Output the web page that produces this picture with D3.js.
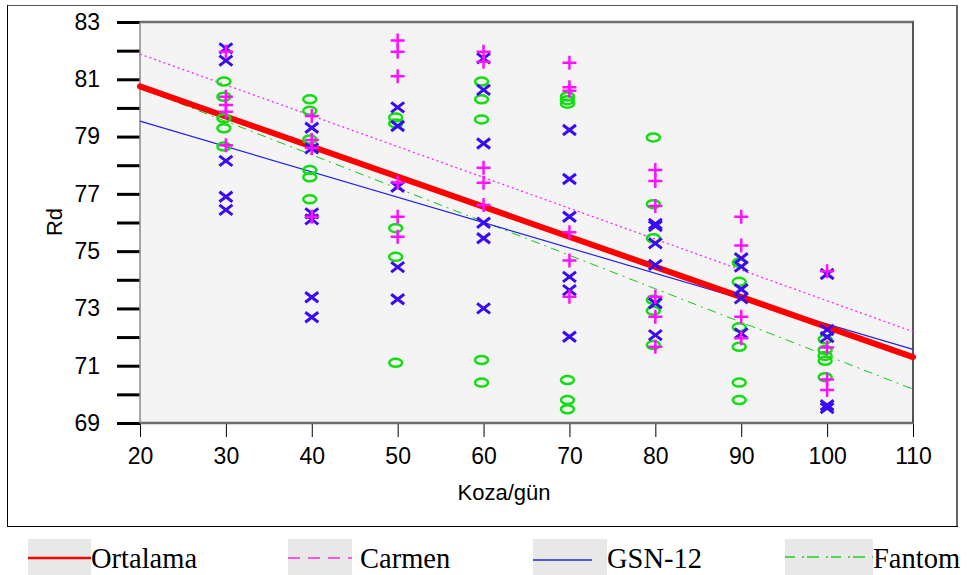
<!DOCTYPE html>
<html>
<head>
    <meta charset="UTF-8">
    <title>Rd - Koza/gün</title>
    <style>
        body {
            margin: 0;
            padding: 0;
            background: #FFFFFF;
        }

        .axis text {
            font-family: "Liberation Sans", Arial, sans-serif;
            font-size: 23px;
            fill: #000;
        }

        .axis-title {
            font-family: "Liberation Sans", Arial, sans-serif;
            font-size: 22px;
        }

        .legend-text {
            font-family: "Liberation Serif", "Times New Roman", serif;
            font-size: 28.5px;
        }
    </style>
</head>
<body>

<script src="https://cdn.jsdelivr.net/npm/d3@7"></script>

<script>
    // Koza/gün levels
    const days = [30, 40, 50, 60, 70, 80, 90, 100];

    // Rd readings per level (one inner array per day value)
    const carmenRd = [
        [81.96, 80.39, 80.10, 79.87, 78.70],
        [79.72, 78.88, 78.60, 76.20],
        [82.35, 81.96, 81.11, 77.40, 76.20, 75.50],
        [81.96, 81.61, 77.91, 77.39, 76.61],
        [81.58, 80.72, 80.60, 75.66, 74.67, 73.41],
        [77.83, 77.45, 76.58, 73.41, 72.71, 71.66],
        [76.20, 75.20, 72.71, 71.96],
        [74.30, 71.64, 70.52, 70.15]
    ];
    const gsnRd = [
        [82.08, 81.65, 78.15, 76.90, 76.44],
        [79.31, 78.59, 76.32, 76.11, 73.39, 72.69],
        [80.02, 79.37, 77.25, 74.44, 73.32],
        [81.73, 80.63, 78.76, 75.99, 75.45, 73.00],
        [79.23, 77.52, 76.20, 74.10, 73.64, 72.01],
        [75.95, 75.88, 75.27, 74.52, 73.18, 72.07],
        [74.75, 74.46, 73.67, 73.35, 72.13],
        [74.20, 72.25, 72.00, 69.62, 69.52]
    ];
    const fantomRd = [
        [80.92, 80.39, 79.64, 79.29, 78.65],
        [80.30, 79.90, 78.90, 77.83, 77.58, 76.81],
        [79.67, 79.46, 75.80, 74.80, 71.10],
        [80.92, 80.30, 79.60, 71.20, 70.41],
        [80.40, 80.27, 80.15, 70.50, 69.80, 69.48],
        [78.97, 76.64, 75.45, 73.30, 72.92, 71.72],
        [74.60, 73.93, 72.34, 71.66, 70.41, 69.80],
        [71.92, 71.55, 71.34, 71.17, 70.60]
    ];

    // fitted lines: Rd at Koza/gün = 20 and 110
    const fitDays = [20, 110];
    const ortalamaFit = [80.75, 71.30];
    const carmenFit = [81.88, 72.19];
    const gsnFit = [79.54, 71.57];
    const fantomFit = [80.70, 70.18];

    const legendNames = ["Ortalama", "Carmen", "GSN-12", "Fantom"];

    const width = 969, height = 575;
    const plot = {left: 140, right: 913, top: 22, bottom: 423};

    const svg = d3.select("body").append("svg")
        .attr("width", width)
        .attr("height", height);

    const x = d3.scaleLinear().domain([20, 110]).range([plot.left, plot.right]);
    const y = d3.scaleLinear().domain([69, 83]).range([plot.bottom, plot.top]);

    // outer frame
    svg.append("line").attr("x1", 7).attr("x2", 957).attr("y1", 5.5).attr("y2", 5.5)
        .attr("stroke", "#555").attr("stroke-width", 1);
    svg.append("line").attr("x1", 7.5).attr("x2", 7.5).attr("y1", 5).attr("y2", 527)
        .attr("stroke", "#000").attr("stroke-width", 1);
    svg.append("line").attr("x1", 957).attr("x2", 957).attr("y1", 5).attr("y2", 527)
        .attr("stroke", "#666").attr("stroke-width", 2);
    svg.append("line").attr("x1", 7).attr("x2", 958).attr("y1", 526.5).attr("y2", 526.5)
        .attr("stroke", "#000").attr("stroke-width", 1);

    // plot background
    svg.append("rect")
        .attr("x", plot.left).attr("y", plot.top)
        .attr("width", plot.right - plot.left).attr("height", plot.bottom - plot.top)
        .attr("fill", "#F4F4F4");

    // axes
    svg.append("g")
        .attr("class", "axis")
        .attr("transform", "translate(" + plot.left + ",0)")
        .call(d3.axisLeft(y)
            .tickValues(d3.range(69, 84))
            .tickSize(23)
            .tickPadding(17)
            .tickFormat(d => d % 2 ? d : ""))
        .call(g => g.select(".domain").remove())
        .call(g => g.selectAll(".tick line").attr("stroke-width", 3));

    svg.append("g")
        .attr("class", "axis")
        .attr("transform", "translate(0," + plot.bottom + ")")
        .call(d3.axisBottom(x)
            .tickValues(d3.range(20, 111, 10))
            .tickSize(14)
            .tickPadding(11))
        .call(g => g.select(".domain").remove());

    // plot border
    svg.append("line").attr("x1", plot.left).attr("x2", plot.right + 1)
        .attr("y1", plot.top).attr("y2", plot.top)
        .attr("stroke", "#6E6E6E").attr("stroke-width", 2.5);
    svg.append("line").attr("x1", plot.left).attr("x2", plot.right + 1)
        .attr("y1", plot.bottom).attr("y2", plot.bottom)
        .attr("stroke", "#6E6E6E").attr("stroke-width", 2.5);
    svg.append("line").attr("x1", plot.left).attr("x2", plot.left)
        .attr("y1", plot.top).attr("y2", plot.bottom)
        .attr("stroke", "#8A8A8A").attr("stroke-width", 1.5);
    svg.append("line").attr("x1", plot.right).attr("x2", plot.right)
        .attr("y1", plot.top).attr("y2", plot.bottom)
        .attr("stroke", "#555").attr("stroke-width", 2);

    // axis titles
    svg.append("text")
        .attr("class", "axis-title")
        .attr("x", 504).attr("y", 500)
        .attr("text-anchor", "middle")
        .text("Koza/gün");

    svg.append("text")
        .attr("class", "axis-title")
        .attr("transform", "translate(62,222) rotate(-90)")
        .attr("text-anchor", "middle")
        .text("Rd");

    // fitted lines
    const fitLine = d3.line()
        .x((d, i) => x(fitDays[i]))
        .y(d => y(d));

    svg.append("path").datum(fantomFit)
        .attr("d", fitLine).attr("fill", "none")
        .attr("stroke", "#11CC11").attr("stroke-width", 1)
        .attr("stroke-dasharray", "9,5,2,5");

    svg.append("path").datum(gsnFit)
        .attr("d", fitLine).attr("fill", "none")
        .attr("stroke", "#2222EE").attr("stroke-width", 1.2);

    svg.append("path").datum(carmenFit)
        .attr("d", fitLine).attr("fill", "none")
        .attr("stroke", "#FF22FF").attr("stroke-width", 1.3)
        .attr("stroke-dasharray", "2,3");

    svg.append("path").datum(ortalamaFit)
        .attr("d", fitLine).attr("fill", "none")
        .attr("stroke", "#FF0000").attr("stroke-width", 6)
        .attr("stroke-linecap", "round");

    // scatter points
    function flatten(rd) {
        const out = [];
        rd.forEach((vals, i) => vals.forEach(v => out.push({day: days[i], rd: v})));
        return out;
    }

    svg.append("g").selectAll("ellipse")
        .data(flatten(fantomRd))
        .join("ellipse")
        .attr("cx", d => x(d.day) - 2)
        .attr("cy", d => y(d.rd))
        .attr("rx", 6.5).attr("ry", 4)
        .attr("fill", "none")
        .attr("stroke", "#11DD11").attr("stroke-width", 2.5);

    svg.append("g").selectAll("path")
        .data(flatten(gsnRd))
        .join("path")
        .attr("transform", d => "translate(" + x(d.day) + "," + y(d.rd) + ")")
        .attr("d", "M-6.5,-5L6.5,5M-6.5,5L6.5,-5")
        .attr("stroke", "#3A0AF5").attr("stroke-width", 3);

    svg.append("g").selectAll("path")
        .data(flatten(carmenRd))
        .join("path")
        .attr("transform", d => "translate(" + x(d.day) + "," + y(d.rd) + ")")
        .attr("d", "M-7,0H7M0,-7V7")
        .attr("stroke", "#FF11FF").attr("stroke-width", 2.5);

    // legend
    const legendItems = [
        {name: legendNames[0], x0: 28, x1: 91, tx: 91, color: "#FF0000", dash: null, w: 2.5, ly: 558},
        {name: legendNames[1], x0: 288, x1: 352, tx: 360, color: "#FF55DD", dash: "12,8", w: 2, ly: 558},
        {name: legendNames[2], x0: 533, x1: 607, tx: 607, color: "#2222EE", dash: null, w: 1.5, ly: 560, lx1: 592},
        {name: legendNames[3], x0: 785, x1: 873, tx: 873, color: "#22CC22", dash: "10,7,2,3,12,7,2,3", w: 1.5, ly: 557}
    ];

    const legend = svg.append("g").selectAll("g")
        .data(legendItems)
        .join("g");

    legend.append("rect")
        .attr("x", d => d.x0).attr("y", 539)
        .attr("width", d => d.x1 - d.x0).attr("height", 36)
        .attr("fill", "#E8E8E8");

    legend.append("line")
        .attr("x1", d => d.x0).attr("x2", d => d.lx1 || d.x1)
        .attr("y1", d => d.ly).attr("y2", d => d.ly)
        .attr("stroke", d => d.color)
        .attr("stroke-width", d => d.w)
        .attr("stroke-dasharray", d => d.dash);

    legend.append("text")
        .attr("class", "legend-text")
        .attr("x", d => d.tx).attr("y", 568)
        .text(d => d.name);
</script>
</body>
</html>
